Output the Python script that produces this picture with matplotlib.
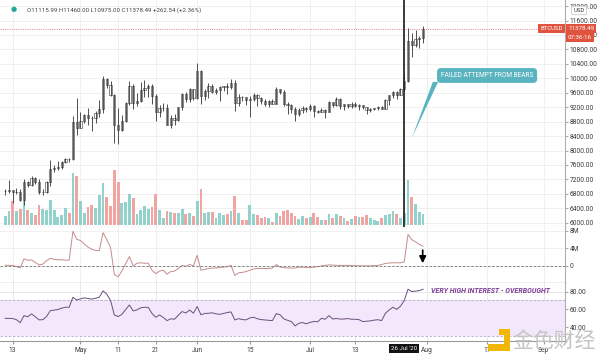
import numpy as np
import pandas as pd
import matplotlib
matplotlib.use('Agg')
import matplotlib.pyplot as plt
from matplotlib.patches import Polygon, Rectangle
from matplotlib.ticker import FormatStrFormatter

plt.rcParams['font.family'] = ['Roboto', 'DejaVu Sans']

# BTCUSD daily, 11 Apr - 31 Jul 2020
dates = pd.date_range('2020-04-11', '2020-07-31', freq='D')

closes = [6885, 6905, 6845, 6860, 6625, 7115, 7040, 7250, 7125, 6840, 6860, 7125, 7490, 7510, 7540, 7695, 7770, 7760, 8780, 8620,
          8830, 8970, 8900, 8890, 9030, 9150, 9990, 9810, 9540, 8720, 8560, 8810, 9310, 9790, 9310, 9380, 9670, 9730, 9780, 9510,
          9060, 9170, 9180, 8720, 8900, 8840, 9200, 9570, 9430, 9700, 9450,
          10200, 9520, 9660, 9790, 9620, 9670, 9750, 9780, 9770, 9870, 9320, 9480, 9470, 9390, 9430, 9530, 9450, 9380, 9300, 9360,
          9290, 9690, 9630, 9300, 9250, 9160, 9000, 9120, 9190, 9140,
          9230, 9090, 9070, 9130, 9080, 9340, 9250, 9430, 9240, 9290, 9240, 9300, 9240, 9250, 9200, 9130, 9150, 9170, 9210, 9160,
          9390, 9530, 9610, 9550, 9700, 9930, 11030, 10920, 11100, 11116, 11378.49]
highs = [6940, 7180, 6910, 6975, 6935, 7200, 7150, 7300, 7260, 7220, 6940, 7160, 7745, 7610, 7700, 7720, 7790, 7780, 8960, 9460,
         9060, 9010, 9190, 8960, 9100, 9390, 10070, 10000, 9920, 9560, 9170, 8980, 9330, 9930, 9840, 9590, 9890, 9950, 9840, 9850,
         9570, 9260, 9310, 9300, 8980, 9010, 9210, 9600, 9610, 9740, 9700,
         10430, 10230, 9690, 9880, 9850, 9740, 9800, 9800, 9880, 9980, 9950, 9560, 9500, 9490, 9500, 9580, 9560, 9480, 9440, 9400,
         9420, 9770, 9700, 9670, 9340, 9280, 9200, 9190, 9230, 9200,
         9300, 9270, 9130, 9190, 9140, 9380, 9350, 9470, 9450, 9300, 9300, 9340, 9350, 9280, 9270, 9210, 9190, 9190, 9240, 9220,
         9420, 9540, 9640, 9640, 9740, 10110, 11400, 11250, 11350, 11170, 11460]
lows = [6770, 6810, 6555, 6785, 6610, 6480, 6990, 7020, 7060, 6790, 6775, 6830, 7020, 7400, 7450, 7490, 7660, 7680, 7730, 8420,
        8620, 8760, 8720, 8550, 8770, 8940, 9040, 9720, 9500, 8210, 8190, 8530, 8800, 9270, 9140, 9220, 9330, 9480, 9470, 9290,
        8820, 8940, 9090, 8700, 8630, 8700, 8820, 9110, 9340, 9350, 9400,
        9420, 9280, 9400, 9460, 9580, 9560, 9380, 9640, 9570, 9690, 9100, 9240, 9370, 9250, 8920, 9380, 9240, 9290, 9230, 9210,
        9280, 9280, 9570, 9230, 9020, 9030, 8830, 8950, 9030, 9080,
        9090, 8940, 9050, 9060, 8910, 9060, 9200, 9230, 9160, 9120, 9190, 9170, 9200, 9120, 9160, 9000, 9080, 9120, 9110, 9140,
        9150, 9270, 9460, 9440, 9530, 9650, 9900, 10600, 10860, 10840, 10975]
opens = [6865] + closes[:-2] + [11115.99]

# volume, thousands BTC
volume = [9, 14, 24, 14, 16, 24, 15, 12, 10, 20, 16, 15, 25, 15, 8, 10, 17, 12, 52, 49,
          24, 12, 18, 20, 17, 30, 42, 28, 19, 55, 43, 22, 23, 31, 27, 11, 15, 19, 16, 18,
          31, 15, 7, 14, 13, 12, 12, 16, 11, 12, 9,
          24, 36, 12, 13, 13, 7, 12, 10, 11, 14, 29, 12, 5, 5, 20, 11, 10, 7, 8, 7,
          3, 12, 9, 14, 15, 12, 9, 6, 9, 7,
          8, 12, 8, 5, 5, 11, 7, 11, 9, 7, 4, 6, 9, 8, 8, 10, 7, 5, 4, 7,
          10, 11, 14, 11, 7, 12, 45, 28, 21, 13, 11]

# open interest change (millions)
oi = [0.15, 0.1, 0.1, -0.2, -0.45, 1.6, 1.3, 1.35, 0.8, 0.2, 0.4, 1.2, 1.7, 1.5, 1.4, 1.4, 1.3, 1.3,
      7.9, 6.1, 5.8, 5.0, 4.3, 3.8, 3.5, 3.5, 7.6, 6.0, 4.2,
      -2.0, -2.5, -1.2, 0.5, 2.1, 0.0, 0.6, 0.7, 0.6, 0.6,
      -1.0, -1.8, -1.2, -1.0, -1.9, -1.3, -1.2, -0.6, 0.1, -0.1, 0.3, 0.0,
      2.4, -1.0, -0.8, -0.6, -0.5, -0.5, -0.4, -0.3, -0.2, 0.1,
      -2.2, -1.6, -1.5, -1.3, -1.0, -0.7, -0.6, -0.6, -0.6, -0.6, -0.5, 0.3, -0.3, -0.4, -0.5, -0.5, -0.5, -0.3,
      -0.3, -0.4, -0.4, -0.3, -0.2, 0.0, 0.1, 0.2, 0.2, 0.1, 0.1, 0.1, 0.1, 0.05, 0.05, 0.0, 0.0, 0.0, 0.0, 0.05, 0.1,
      0.3, 0.55, 0.65, 0.7, 0.7, 0.7, 0.9, 7.2, 6.0, 5.5, 4.9, 4.5]

rsi = [50.0, 50.0, 49.8, 48.5, 45.2, 53, 51.8, 55, 51.8, 48.3, 48.5, 52, 58.7, 59.2, 59.8, 61.4, 62.4, 62.4,
       73.6, 70.5, 71.8, 72.9, 72.2, 71.5, 72.5, 73.6, 80.7, 77.0, 70.0,
       53.8, 52, 54.5, 59.8, 65, 58.3, 59.5, 61.8, 62.4, 62.2,
       55.5, 51.2, 53.8, 51, 47.5, 49.5, 49, 53.5, 57.6, 56, 59.4, 55.7,
       63.2, 54, 55.5, 55.7, 56.2, 55, 54.5, 55.5, 56.5, 57.2,
       48.2, 49.7, 48.6, 48.3, 50.5, 51.2, 49.5, 48.6, 48.2, 47.8, 47.5, 55.3, 54, 49.5, 47.8, 46.5, 41.5, 44.5,
       45.3, 43.9, 45.5, 46.5, 46.2, 50, 49, 53, 49.3, 49.8, 49.2, 49.2, 49.8, 49, 49, 48.5, 46.4, 46.8, 47.2, 48, 48.5,
       47.5, 55.7, 59.4, 62.4, 60, 63.5, 70, 82.6, 80, 80.5, 81, 82.6]

tick_dates = ['2020-04-13', '2020-05-01', '2020-05-11', '2020-05-21', '2020-06-01', '2020-06-15',
              '2020-07-01', '2020-07-13', '2020-08-01', '2020-08-17', '2020-09-01']
tick_labels = ['13', 'May', '11', '21', 'Jun', '15', 'Jul', '13', 'Aug', '17', 'Sep']
marker_date = '2020-07-26'

x = np.arange(len(dates))
o = np.array(opens); h = np.array(highs); l = np.array(lows); c = np.array(closes)
tick_x = [(pd.Timestamp(d) - dates[0]).days for d in tick_dates]
mark_x = (pd.Timestamp(marker_date) - dates[0]).days

fig = plt.figure(figsize=(6, 3.57), dpi=100)
W, H = 600, 357
R = 565 / W
xlim = (-1.37, 148.7)
grid_c = '#eeeeee'
txt_c = '#3a3a3a'

rect_main = [0, 1 - 227 / H, R, 227 / H]
rect_p1 = [0, 1 - 283.3 / H, R, 56.3 / H]
rect_p2 = [0, 1 - 340.7 / H, R, 57.4 / H]

# main price pane (grid + axis)
ax = fig.add_axes(rect_main)
ax.set_xlim(*xlim)
ax.set_ylim(5881, 12169)
ax.set_yticks(np.arange(6000, 12001, 400))
ax.yaxis.set_major_formatter(FormatStrFormatter('%.2f'))
ax.yaxis.tick_right()
ax.set_xticks(tick_x)
ax.tick_params(axis='x', length=0, labelbottom=False)
ax.tick_params(axis='y', labelsize=4.8, length=2, pad=1.5, colors=txt_c, color='#aaaaaa')
ax.grid(color=grid_c, lw=0.6)
for s in ['top', 'left']:
    ax.spines[s].set_visible(False)
ax.spines['right'].set_color('#b0b0b0')
ax.spines['bottom'].set_color('#9a9a9a')
ax.spines['bottom'].set_linewidth(0.8)
ax.axhline(closes[-1], color='#e57373', lw=0.6, ls=(0, (1.2, 1.5)))

# volume layer
vax = fig.add_axes(rect_main, sharex=ax)
vax.patch.set_visible(False)
vax.axis('off')
vcol = ['#92d2cc' if cc >= oo else '#f0a5a3' for oo, cc in zip(o, c)]
vax.bar(x, volume, width=0.75, color=vcol)
vax.set_ylim(-2.5, 224.5)

# candles layer
cax = fig.add_axes(rect_main, sharex=ax, sharey=ax)
cax.patch.set_visible(False)
cax.axis('off')
cax.vlines(x, l, h, color='#333333', lw=0.6)
body_lo = np.minimum(o, c)
body_h = np.maximum(np.abs(c - o), 12)
cax.bar(x, body_h, bottom=body_lo, width=0.6, color='white', edgecolor='#333333', lw=0.4)
cax.axvline(mark_x, color='#2b2b2b', lw=1.3)

# callout
cax.annotate('FAILED ATTEMPT FROM BEARS', xy=(128, 10078), ha='center', va='center',
             fontsize=4.7, color='white',
             bbox=dict(boxstyle='round,pad=0.6,rounding_size=0.6', fc='#5ab4bf', ec='none'))
cax.add_patch(Polygon([(113.6, 9900), (115.0, 9900), (108.0, 8346)], closed=True,
                      fc='#5ab4bf', ec='none'))

# price labels on axis
ytr = ax.get_yaxis_transform()
ax.annotate('BTCUSD', xy=(1, closes[-1]), xycoords=ytr, xytext=(-1.5, 0), textcoords='offset points',
            ha='right', va='center', fontsize=4.3, color='white', annotation_clip=False,
            bbox=dict(boxstyle='square,pad=0.35', fc='#e0533f', ec='none'))
ax.annotate('%.2f' % closes[-1], xy=(1, closes[-1]), xycoords=ytr, xytext=(2.2, 0), textcoords='offset points',
            ha='left', va='center', fontsize=4.5, color='white', annotation_clip=False,
            bbox=dict(boxstyle='square,pad=0.35', fc='#e0533f', ec='none'))
ax.annotate('07:36:16', xy=(1, closes[-1]), xycoords=ytr, xytext=(2.2, -6.5), textcoords='offset points',
            ha='left', va='center', fontsize=4.5, color='white', annotation_clip=False,
            bbox=dict(boxstyle='square,pad=0.35', fc='#e0533f', ec='none'))
fig.text(579 / W, 1 - 10.5 / H, 'USD', fontsize=4.3, color=txt_c, ha='center', va='center',
         bbox=dict(boxstyle='round,pad=0.3', fc='white', ec='#c0c0c0', lw=0.5))

# OHLC header
fig.text(14 / W, 1 - 10 / H, '\u25cf', fontsize=5, color='#26a69a', ha='center', va='center')
fig.text(27 / W, 1 - 10 / H, 'O%.2f H%.2f L%.2f C%.2f +262.54 (+2.36%%)' % (opens[-1], highs[-1], lows[-1], closes[-1]),
         fontsize=4.4, color='#444444', ha='left', va='center')

# pane 1: open interest
ax1 = fig.add_axes(rect_p1, sharex=ax)
ax1.plot(x, oi, color='#c48b8b', lw=0.7)
ax1.axhline(0, color='#777777', lw=0.6, ls=(0, (3, 2)))
ax1.set_ylim(-4.0, 8.9)
ax1.set_yticks([0, 4, 8])
ax1.set_yticklabels(['0', '4M', '8M'])
ax1.yaxis.tick_right()
ax1.set_xticks(tick_x)
ax1.tick_params(axis='x', length=0, labelbottom=False)
ax1.tick_params(axis='y', labelsize=4.8, length=2, pad=1.5, colors=txt_c, color='#aaaaaa')
ax1.grid(color=grid_c, lw=0.6)
for s in ['top', 'left']:
    ax1.spines[s].set_visible(False)
ax1.spines['right'].set_color('#b0b0b0')
ax1.spines['bottom'].set_color('#8a8a8a')
ax1.spines['bottom'].set_linewidth(0.9)
ax1.annotate('', xy=(110.9, 0.6), xytext=(110.9, 3.6),
             arrowprops=dict(arrowstyle='-|>,head_length=0.5,head_width=0.25', color='black', lw=1.2,
                             mutation_scale=8, shrinkA=0, shrinkB=0))

# pane 2: RSI
ax2 = fig.add_axes(rect_p2, sharex=ax)
ax2.axhspan(30, 70, color='#f3e8fb', lw=0)
ax2.axhline(70, color='#b9a6c6', lw=0.6, ls=(0, (3, 2)))
ax2.axhline(30, color='#b9a6c6', lw=0.6, ls=(0, (3, 2)))
ax2.plot(x, rsi, color='#6a4f7e', lw=0.7)
ax2.set_ylim(25, 89.2)
ax2.set_yticks([40, 60, 80])
ax2.yaxis.set_major_formatter(FormatStrFormatter('%.2f'))
ax2.yaxis.tick_right()
ax2.set_xticks(tick_x)
ax2.set_xticklabels(tick_labels)
ax2.tick_params(axis='x', labelsize=4.8, length=2, pad=2.5, colors=txt_c, color='#999999')
ax2.tick_params(axis='y', labelsize=4.8, length=2, pad=1.5, colors=txt_c, color='#aaaaaa')
ax2.grid(color='#e4e4e4', lw=0.6)
ax2.set_axisbelow(True)
for s in ['top', 'left']:
    ax2.spines[s].set_visible(False)
ax2.spines['right'].set_color('#b0b0b0')
ax2.spines['bottom'].set_color('#9a9a9a')
ax2.text(113, 81, 'VERY HIGH INTEREST - OVERBOUGHT', fontsize=5, fontstyle='italic', fontweight='bold',
         color='#7d3c98', ha='left', va='center')
ax2.annotate("26 Jul '20", xy=(mark_x, 0), xycoords=ax2.get_xaxis_transform(), xytext=(0, -5.4),
             textcoords='offset points', ha='center', va='center', fontsize=4.4, color='white',
             annotation_clip=False, bbox=dict(boxstyle='square,pad=0.35', fc='#131313', ec='none'))
ax.set_xlim(*xlim)

# watermark
for rx, ry, rw, rh in [(499, 329, 5, 6), (504, 329, 6, 22), (488, 344, 22, 7)]:
    fig.add_artist(Rectangle((rx / W, 1 - (ry + rh) / H), rw / W, rh / H, transform=fig.transFigure,
                             fc='#f2b705', ec='none', zorder=10))
fig.text(554 / W, 1 - 341 / H, '金色财经', fontsize=15, color='#c4c4c4', ha='center', va='center',
         family=['Noto Sans CJK SC', 'DejaVu Sans'], zorder=10)

fig.savefig('out.png', dpi=100)
